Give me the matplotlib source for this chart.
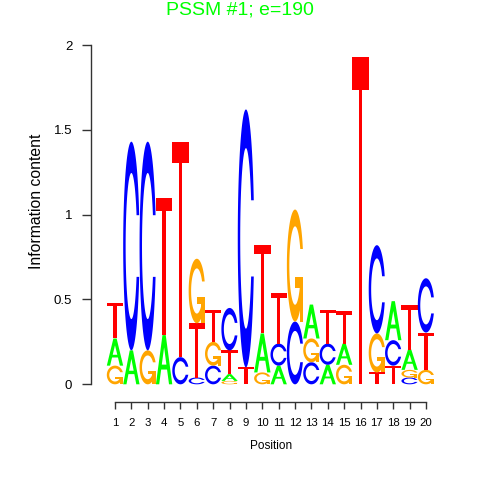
import numpy as np
import matplotlib
matplotlib.use("Agg")
import matplotlib.pyplot as plt
from matplotlib.patches import Polygon

positions = list(range(1, 21))
# information content (bits) of each base at each position
A = [0.16, 0.20, 0.00, 0.29, 0.00, 0.00, 0.00, 0.04, 0.00, 0.23, 0.11, 0.00, 0.20, 0.115, 0.125, 0.00, 0.00, 0.23, 0.12, 0.00]
C = [0.00, 1.23, 1.23, 0.00, 0.16, 0.04, 0.11, 0.25, 1.52, 0.00, 0.13, 0.37, 0.13, 0.125, 0.00, 0.00, 0.52, 0.15, 0.04, 0.32]
G = [0.11, 0.00, 0.20, 0.00, 0.00, 0.38, 0.14, 0.02, 0.00, 0.07, 0.00, 0.66, 0.14, 0.00, 0.115, 0.00, 0.23, 0.00, 0.045, 0.085]
T = [0.21, 0.00, 0.00, 0.81, 1.27, 0.32, 0.19, 0.14, 0.10, 0.52, 0.30, 0.00, 0.00, 0.20, 0.19, 1.93, 0.07, 0.11, 0.26, 0.22]

y_ticks = [0, 0.5, 1, 1.5, 2]
y_tick_labels = ["0", "0.5", "1", "1.5", "2"]

COLORS = {"A": "#00FF00", "C": "#0000FF", "G": "#FFA500", "T": "#FF0000"}


# glyph outlines in a unit box, seqLogo style
def ring_outline():
    a1 = np.linspace(0.3 + np.pi / 2, np.pi, 100)
    a2 = np.linspace(np.pi, 1.5 * np.pi, 100)
    xl = np.concatenate([0.5 + 0.5 * np.sin(a1), 0.5 + 0.5 * np.sin(a2)])
    yl1 = 0.5 + 0.5 * np.cos(a1)
    yl = np.concatenate([yl1, 0.5 + 0.5 * np.cos(a2)])
    x = np.concatenate([xl, xl[::-1]])
    y = np.concatenate([yl, 1 - yl[::-1]])
    xi1 = 0.5 + 0.35 * np.sin(a1)
    yi1 = 0.5 + 0.35 * np.cos(a1)
    keep = yi1 <= yl1.max()
    xi1, yi1 = xi1[keep], yi1[keep].copy()
    yi1[0] = yl1.max()
    xi = np.concatenate([xi1, 0.5 + 0.35 * np.sin(a2)])
    yi = np.concatenate([yi1, 0.5 + 0.35 * np.cos(a2)])
    x1 = np.concatenate([xi, xi[::-1]])
    y1 = np.concatenate([yi, 1 - yi[::-1]])
    x = np.concatenate([x, x1[::-1]])
    y = np.concatenate([y, y1[::-1]])
    return x, y, (0.5 + 0.5 * np.sin(a1)).max()


def glyph(ch):
    # list of (x, y, fill) pieces
    if ch == "A":
        x = np.array([0, 4, 6, 10, 8, 6.8, 3.2, 2]) * 0.1
        y = np.array([0, 10, 10, 0, 0, 3, 3, 0]) * 0.1
        hx = np.array([3.6, 5, 6.4]) * 0.1
        hy = np.array([4, 7.5, 4]) * 0.1
        return [(x, y, COLORS["A"]), (hx, hy, "white")]
    if ch == "T":
        x = np.array([0, 10, 10, 6, 6, 4, 4, 0]) * 0.1
        y = np.array([10, 10, 9, 9, 0, 0, 9, 9]) * 0.1
        return [(x, y, COLORS["T"])]
    x, y, r1 = ring_outline()
    if ch == "C":
        return [(x, y, COLORS["C"])]
    h1 = 0.4
    xa = np.array([r1, 0.5, 0.5, r1 - 0.2, r1 - 0.2, r1, r1])
    ya = np.array([h1, h1, h1 - 0.1, h1 - 0.1, 0, 0, h1])
    return [(x, y, COLORS["G"]), (xa, ya, COLORS["G"])]


def draw_letter(ax, ch, xc, y0, h, w=1.0):
    for gx, gy, fill in glyph(ch):
        pts = np.column_stack([xc - w / 2 + w * gx, y0 + h * gy])
        ax.add_patch(Polygon(pts, closed=True, fc=fill, ec="none", lw=0))


fig = plt.figure(figsize=(4.8, 4.8), dpi=100)
W = H = 480.0
# axes box in pixels: left spine at x=91, x axis line at y=401.7, top (2 bits) at y=45
left_px, right_px = 91, 440
top_px, bottom_px = 45, 401.7
ax = fig.add_axes([left_px / W, 1 - bottom_px / H, (right_px - left_px) / W, (bottom_px - top_px) / H])

px_per_pos = (426 - 115) / 19.0
px_per_bit = (384.3 - 45) / 2.0
ax.set_xlim(1 + (left_px - 115) / px_per_pos, 1 + (right_px - 115) / px_per_pos)
ax.set_ylim(-(bottom_px - 384.3) / px_per_bit, 2.0)

for i, pos in enumerate(positions):
    col = [("A", A[i]), ("C", C[i]), ("G", G[i]), ("T", T[i])]
    col = sorted([c for c in col if c[1] > 0], key=lambda c: c[1])
    base = 0.0
    for ch, h in col:
        draw_letter(ax, ch, pos, base, h)
        base += h

for s in ["top", "right"]:
    ax.spines[s].set_visible(False)
ax.spines["left"].set_bounds(0, 2)
ax.spines["bottom"].set_bounds(1, 20)
for s in ["left", "bottom"]:
    ax.spines[s].set_color("#333333")
    ax.spines[s].set_linewidth(1.0)

ax.set_yticks(y_ticks)
ax.set_yticklabels(y_tick_labels, fontsize=9.5, family="Liberation Sans")
ax.set_xticks(positions)
ax.set_xticklabels([str(p) for p in positions], fontsize=8.2, family="Liberation Sans")
ax.tick_params(axis="y", length=6.5, width=1, color="#333333", pad=7)
ax.tick_params(axis="x", length=4.8, width=1, color="#333333", pad=7)

fig.text(37 / W, 1 - 201 / H, "Information content", rotation=90, ha="center", va="center",
         fontsize=11.3, family="Liberation Sans")
fig.text(271 / W, 1 - 446 / H, "Position", ha="center", va="center",
         fontsize=8.5, family="Liberation Sans")
fig.text(0.5, 1 - 10 / H, "PSSM #1; e=190", ha="center", va="center",
         fontsize=14, color="#00FF00", family="Liberation Sans")

fig.savefig("out.png", dpi=100)
